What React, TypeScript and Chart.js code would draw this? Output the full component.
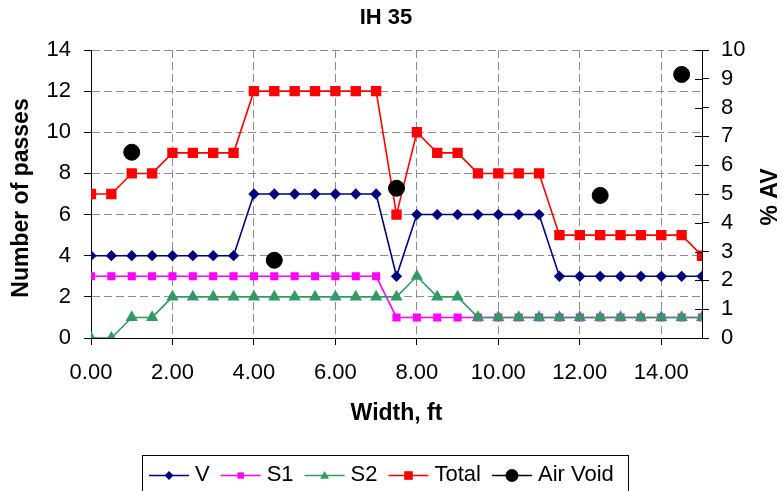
import React, { useEffect, useRef } from "react";
import { Chart, registerables } from "chart.js";

Chart.register(...registerables);

const chartTitle = "IH 35";
const xAxisTitle = "Width, ft";
const yAxisTitle = "Number of passes";
const y2AxisTitle = "% AV";

const widthFt = [0, 0.5, 1, 1.5, 2, 2.5, 3, 3.5, 4, 4.5, 5, 5.5, 6, 6.5, 7, 7.5, 8, 8.5, 9, 9.5, 10, 10.5, 11, 11.5, 12, 12.5, 13, 13.5, 14, 14.5, 15];
const vPasses = [4, 4, 4, 4, 4, 4, 4, 4, 7, 7, 7, 7, 7, 7, 7, 3, 6, 6, 6, 6, 6, 6, 6, 3, 3, 3, 3, 3, 3, 3, 3];
const s1Passes = [3, 3, 3, 3, 3, 3, 3, 3, 3, 3, 3, 3, 3, 3, 3, 1, 1, 1, 1, 1, 1, 1, 1, 1, 1, 1, 1, 1, 1, 1, 1];
const s2Passes = [0, 0, 1, 1, 2, 2, 2, 2, 2, 2, 2, 2, 2, 2, 2, 2, 3, 2, 2, 1, 1, 1, 1, 1, 1, 1, 1, 1, 1, 1, 1];
const totalPasses = [7, 7, 8, 8, 9, 9, 9, 9, 12, 12, 12, 12, 12, 12, 12, 6, 10, 9, 9, 8, 8, 8, 8, 5, 5, 5, 5, 5, 5, 5, 4];
const airVoidX = [1, 4.5, 7.5, 12.5, 14.5];
const airVoidPct = [6.45, 2.7, 5.2, 4.95, 9.15];

const xTicks = [0, 2, 4, 6, 8, 10, 12, 14];
const yTicks = [0, 2, 4, 6, 8, 10, 12, 14];
const y2Ticks = [0, 1, 2, 3, 4, 5, 6, 7, 8, 9, 10];

const FONT = '"Liberation Sans", Arial, Helvetica, sans-serif';

const legendShapes: Record<string, { shape: string; r: number }> = {
  V: { shape: "diamond", r: 4.5 },
  S1: { shape: "square", r: 3.2 },
  S2: { shape: "triangle", r: 4.5 },
  Total: { shape: "square", r: 4.3 },
  "Air Void": { shape: "circle", r: 6.5 },
};

function drawMarker(ctx: CanvasRenderingContext2D, shape: string, x: number, y: number, r: number, color: string) {
  ctx.fillStyle = color;
  ctx.beginPath();
  if (shape === "diamond") {
    ctx.moveTo(x, y - r);
    ctx.lineTo(x + r, y);
    ctx.lineTo(x, y + r);
    ctx.lineTo(x - r, y);
    ctx.closePath();
  } else if (shape === "square") {
    ctx.rect(x - r, y - r, 2 * r, 2 * r);
  } else if (shape === "triangle") {
    ctx.moveTo(x, y - r);
    ctx.lineTo(x + r, y + r * 0.7);
    ctx.lineTo(x - r, y + r * 0.7);
    ctx.closePath();
  } else {
    ctx.arc(x, y, r, 0, Math.PI * 2);
  }
  ctx.fill();
}

const customPlugin = {
  id: "customDecor",
  afterDraw(chart: any) {
    const ctx: CanvasRenderingContext2D = chart.ctx;
    const area = chart.chartArea;
    ctx.save();
    // inner tick marks of the right axis
    const y2 = chart.scales.y2;
    ctx.strokeStyle = "#000";
    ctx.lineWidth = 1;
    ctx.setLineDash([]);
    for (const t of y2.ticks) {
      const py = Math.round(y2.getPixelForValue(t.value)) + 0.5;
      ctx.beginPath();
      ctx.moveTo(area.right - 7, py);
      ctx.lineTo(area.right, py);
      ctx.stroke();
    }
    // title
    ctx.fillStyle = "#000";
    ctx.textAlign = "center";
    ctx.textBaseline = "middle";
    ctx.font = `bold 22px ${FONT}`;
    ctx.fillText(chartTitle, 386, 18);
    // x axis title
    ctx.font = `bold 23px ${FONT}`;
    ctx.fillText(xAxisTitle, (area.left + area.right) / 2, 414);
    // left axis title
    ctx.save();
    ctx.translate(22, (area.top + area.bottom) / 2 + 4);
    ctx.rotate(-Math.PI / 2);
    ctx.fillText(yAxisTitle, 0, 0);
    ctx.restore();
    // right axis title
    ctx.save();
    ctx.translate(771, (area.top + area.bottom) / 2 + 3);
    ctx.rotate(-Math.PI / 2);
    ctx.fillText(y2AxisTitle, 0, 0);
    ctx.restore();
    // legend
    ctx.strokeStyle = "#000";
    ctx.lineWidth = 1;
    ctx.strokeRect(142.5, 455.5, 486, 40);
    ctx.font = `22px ${FONT}`;
    ctx.textAlign = "left";
    let lx = 149;
    const ly = 475;
    for (const ds of chart.data.datasets) {
      const color = ds.borderColor;
      const info = legendShapes[ds.label];
      ctx.strokeStyle = color;
      ctx.lineWidth = 1.5;
      ctx.beginPath();
      ctx.moveTo(lx, ly + 0.5);
      ctx.lineTo(lx + 40, ly + 0.5);
      ctx.stroke();
      drawMarker(ctx, info.shape, lx + 20, ly + 0.5, info.r, ds.pointBackgroundColor);
      ctx.fillStyle = "#000";
      ctx.fillText(ds.label, lx + 46, ly);
      lx += 46 + ctx.measureText(ds.label).width + 11;
    }
    ctx.restore();
  },
};

export default function App() {
  const canvasRef = useRef<HTMLCanvasElement | null>(null);

  useEffect(() => {
    if (!canvasRef.current) return;
    const toXY = (ys: number[]) => ys.map((y, i) => ({ x: widthFt[i], y }));
    const gridCommon = {
      color: "#8c8c8c",
      lineWidth: 1,
      tickColor: "#000",
      tickLength: 7,
      drawTicks: true,
    };
    const tickFont = { family: FONT, size: 22 };
    const chart = new Chart(canvasRef.current, {
      type: "line",
      data: {
        datasets: [
          {
            label: "V",
            data: toXY(vPasses),
            borderColor: "#000080",
            backgroundColor: "#000080",
            pointBackgroundColor: "#000080",
            pointBorderColor: "#000080",
            pointStyle: "rectRot",
            pointRadius: 4.5,
            borderWidth: 1.6,
            yAxisID: "y",
            order: 5,
          },
          {
            label: "S1",
            data: toXY(s1Passes),
            borderColor: "#FF00FF",
            backgroundColor: "#FF00FF",
            pointBackgroundColor: "#FF00FF",
            pointBorderColor: "#FF00FF",
            pointStyle: "rect",
            pointRadius: 4.6,
            borderWidth: 1.6,
            yAxisID: "y",
            order: 4,
          },
          {
            label: "S2",
            data: toXY(s2Passes),
            borderColor: "#339966",
            backgroundColor: "#339966",
            pointBackgroundColor: "#339966",
            pointBorderColor: "#339966",
            pointStyle: "triangle",
            pointRadius: 5.5,
            borderWidth: 1.6,
            yAxisID: "y",
            order: 3,
          },
          {
            label: "Total",
            data: toXY(totalPasses),
            borderColor: "#FF0000",
            backgroundColor: "#FF0000",
            pointBackgroundColor: "#FF0000",
            pointBorderColor: "#FF0000",
            pointStyle: "rect",
            pointRadius: 6.2,
            borderWidth: 1.6,
            yAxisID: "y",
            order: 2,
          },
          {
            label: "Air Void",
            data: airVoidX.map((x, i) => ({ x, y: airVoidPct[i] })),
            borderColor: "#000000",
            backgroundColor: "#000000",
            pointBackgroundColor: "#000000",
            pointBorderColor: "#000000",
            pointStyle: "circle",
            pointRadius: 8,
            showLine: false,
            yAxisID: "y2",
            order: 1,
          } as any,
        ],
      },
      options: {
        animation: false,
        responsive: false,
        devicePixelRatio: 1,
        layout: { padding: { left: 0, right: 0, top: 50, bottom: 63 } },
        plugins: {
          legend: { display: false },
          title: { display: false },
          tooltip: { enabled: false },
        },
        scales: {
          x: {
            type: "linear",
            min: 0,
            max: 15,
            afterBuildTicks: (s: any) => {
              s.ticks = xTicks.map((v) => ({ value: v }));
            },
            afterFit: (s: any) => {
              s.height = 90;
            },
            ticks: {
              color: "#000",
              font: tickFont,
              padding: 15,
              maxRotation: 0,
              autoSkip: false,
              callback: (v: any) => Number(v).toFixed(2),
            },
            grid: gridCommon,
            border: { display: true, color: "#000", width: 1, dash: [8, 4] },
          },
          y: {
            type: "linear",
            position: "left",
            min: 0,
            max: 14,
            afterBuildTicks: (s: any) => {
              s.ticks = yTicks.map((v) => ({ value: v }));
            },
            afterFit: (s: any) => {
              s.width = 91;
            },
            ticks: { color: "#000", font: tickFont, padding: 13, autoSkip: false },
            grid: gridCommon,
            border: { display: true, color: "#000", width: 1, dash: [8, 4] },
          },
          y2: {
            type: "linear",
            position: "right",
            min: 0,
            max: 10,
            afterBuildTicks: (s: any) => {
              s.ticks = y2Ticks.map((v) => ({ value: v }));
            },
            afterFit: (s: any) => {
              s.width = 81;
            },
            ticks: { color: "#000", font: tickFont, padding: 12, autoSkip: false },
            grid: { ...gridCommon, drawOnChartArea: false },
            border: { display: true, color: "#000", width: 1 },
          },
        },
      } as any,
      plugins: [customPlugin],
    });
    return () => chart.destroy();
  }, []);

  return (
    <div style={{ position: "absolute", left: 0, top: 0, width: 783, height: 491, background: "#fff" }}>
      <canvas ref={canvasRef} width={783} height={491} style={{ display: "block" }} />
    </div>
  );
}
